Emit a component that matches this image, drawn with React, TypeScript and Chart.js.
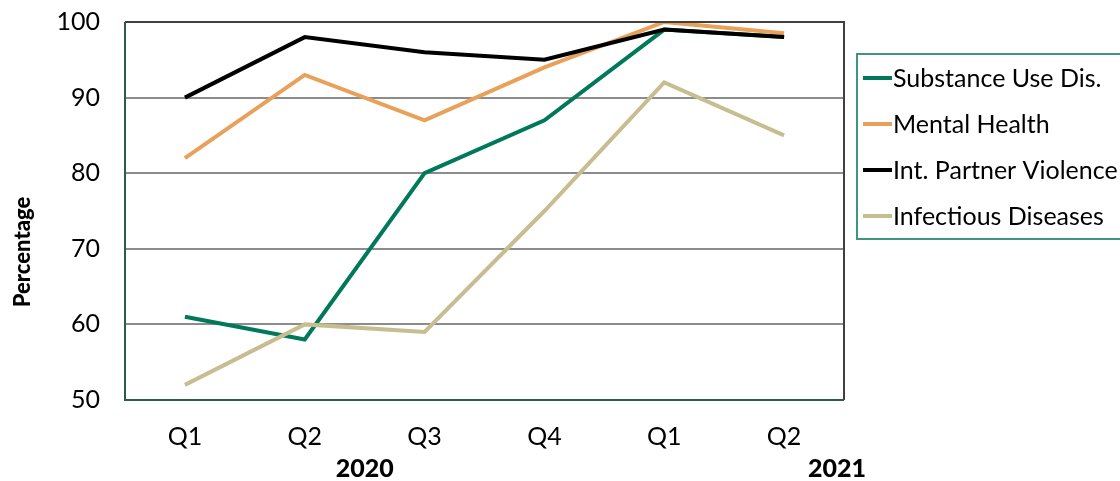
import React, { useEffect, useRef } from "react";
import { Chart, registerables } from "chart.js";

Chart.register(...registerables);

const categories = ["Q1", "Q2", "Q3", "Q4", "Q1", "Q2"];
const yearLabels = ["2020", "2021"];
const seriesNames = ["Substance Use Dis.", "Mental Health", "Int. Partner Violence", "Infectious Diseases"];
const substanceUse = [61, 58, 80, 87, 99, 98];
const mentalHealth = [82, 93, 87, 94, 100, 98.5];
const partnerViolence = [90, 98, 96, 95, 99, 98];
const infectious = [52, 60, 59, 75, 92, 85];
const seriesColors = ["#00795A", "#E9A15A", "#000000", "#C6BE91"];
const yTicks = [50, 60, 70, 80, 90, 100];

const FONT = "Lato, 'Open Sans', sans-serif";

const overlayPlugin = {
  id: "overlay",
  afterDraw(chart: any) {
    const { ctx, chartArea } = chart;
    const xs = chart.scales.x;
    ctx.save();
    // Frame: top & right dark grey, left & bottom dark green
    ctx.lineWidth = 2;
    ctx.strokeStyle = "#404040";
    ctx.beginPath();
    ctx.moveTo(chartArea.left, chartArea.top);
    ctx.lineTo(chartArea.right, chartArea.top);
    ctx.lineTo(chartArea.right, chartArea.bottom);
    ctx.stroke();
    ctx.strokeStyle = "#2F5A48";
    ctx.beginPath();
    ctx.moveTo(chartArea.left, chartArea.top);
    ctx.lineTo(chartArea.left, chartArea.bottom);
    ctx.lineTo(chartArea.right, chartArea.bottom);
    ctx.stroke();

    // Year labels
    ctx.fillStyle = "#000";
    ctx.font = `900 25px ${FONT}`;
    ctx.textAlign = "center";
    ctx.textBaseline = "middle";
    const x2020 = (xs.getPixelForValue(0) + xs.getPixelForValue(3)) / 2;
    ctx.fillText(yearLabels[0], x2020, 469);
    ctx.fillText(yearLabels[1], chartArea.right - 7, 469);

    // Y axis title
    ctx.save();
    ctx.translate(23, 252);
    ctx.rotate(-Math.PI / 2);
    ctx.font = `900 22px ${FONT}`;
    ctx.fillText("Percentage", 0, 0);
    ctx.restore();

    // Legend box
    const lx = 857;
    const ly = 54;
    ctx.strokeStyle = "#3E9580";
    ctx.lineWidth = 2;
    ctx.strokeRect(lx, ly, 300, 185);
    ctx.font = `25px ${FONT}`;
    ctx.textAlign = "left";
    chart.data.datasets.forEach((ds: any, i: number) => {
      const cy = 78 + i * 46;
      ctx.strokeStyle = ds.borderColor;
      ctx.lineWidth = 4;
      ctx.beginPath();
      ctx.moveTo(863, cy);
      ctx.lineTo(892, cy);
      ctx.stroke();
      ctx.fillStyle = "#000";
      ctx.fillText(ds.label, 893, cy + 1);
    });
    ctx.restore();
  },
};

export default function App() {
  const ref = useRef<HTMLCanvasElement>(null);
  useEffect(() => {
    if (!ref.current) return;
    const values = [substanceUse, mentalHealth, partnerViolence, infectious];
    const chart = new Chart(ref.current, {
      type: "line",
      data: {
        labels: categories,
        datasets: values.map((v, i) => ({
          label: seriesNames[i],
          data: v,
          borderColor: seriesColors[i],
          backgroundColor: seriesColors[i],
          borderWidth: 4,
          pointRadius: 0,
          tension: 0,
          order: -i,
        })),
      },
      options: {
        animation: false,
        responsive: false,
        devicePixelRatio: 1,
        layout: { padding: { left: 0, right: 276, top: 22, bottom: 0 } },
        plugins: { legend: { display: false }, tooltip: { enabled: false } },
        scales: {
          x: {
            offset: true,
            grid: { display: false, drawTicks: false },
            border: { display: false },
            ticks: { color: "#000", font: { family: FONT, size: 25 }, padding: 22, maxRotation: 0 },
            afterFit: (s: any) => {
              s.height = 81;
              s.paddingLeft = 0;
              s.paddingRight = 0;
              s.paddingTop = 0;
              s.paddingBottom = 0;
            },
          },
          y: {
            min: 50,
            max: 100,
            afterBuildTicks: (s: any) => { s.ticks = yTicks.map((v) => ({ value: v })); },
            grid: { color: "#8C8C8C", lineWidth: 2, drawTicks: false },
            border: { display: false },
            ticks: { color: "#000", font: { family: FONT, size: 25 }, padding: 25 },
            afterFit: (s: any) => {
              s.width = 125;
              s.paddingTop = 0;
              s.paddingBottom = 0;
              s.paddingLeft = 0;
              s.paddingRight = 0;
            },
          },
        },
      },
      plugins: [overlayPlugin],
    });
    return () => chart.destroy();
  }, []);
  return (
    <div style={{ position: "absolute", left: 0, top: 0, width: 1120, height: 481, overflow: "hidden", background: "#fff" }}>
      <canvas ref={ref} width={1120} height={481} style={{ width: 1120, height: 481, display: "block" }} />
    </div>
  );
}
